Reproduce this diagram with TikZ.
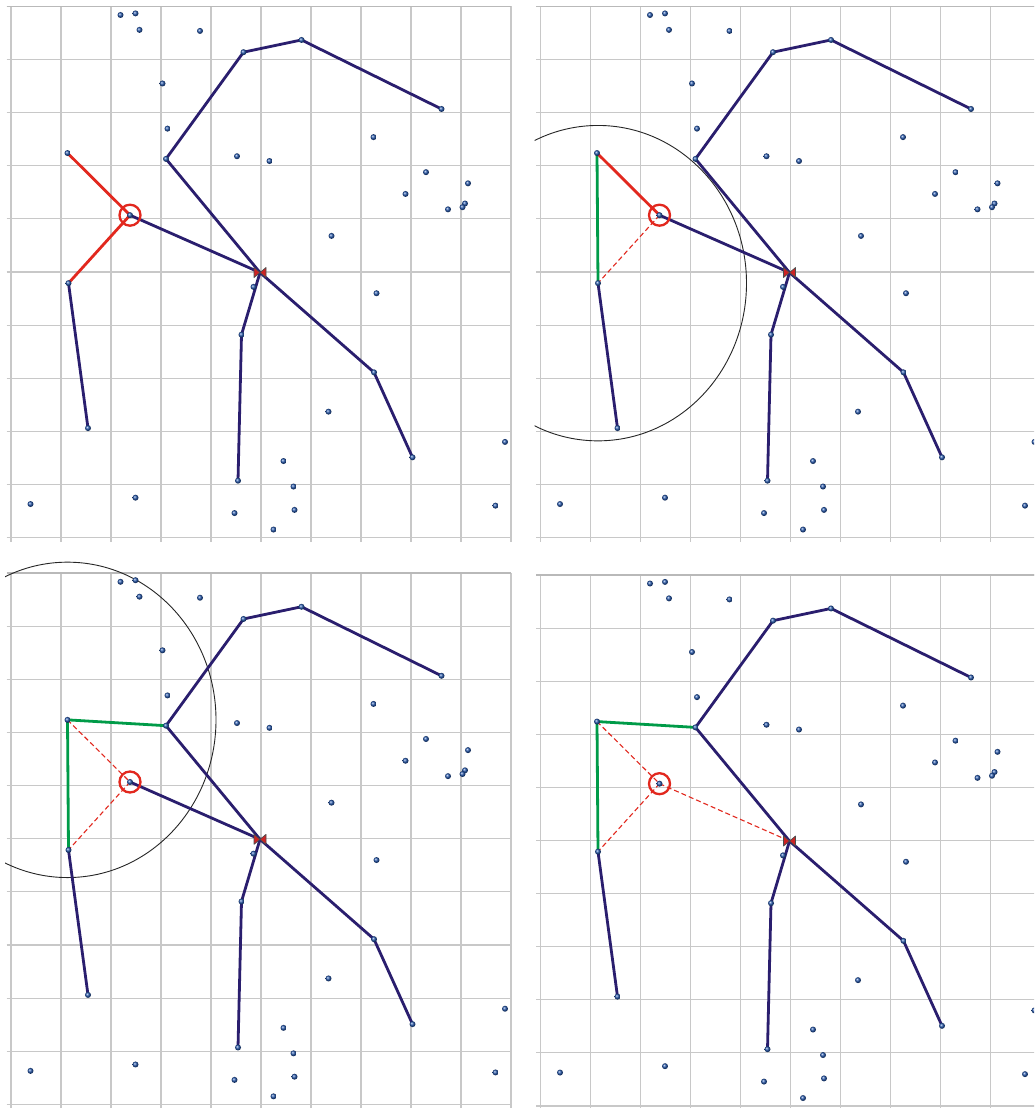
\documentclass[tikz,border=0pt]{standalone}
\usepackage{tikz}
\definecolor{navy}{RGB}{42,30,110}
\definecolor{redc}{RGB}{226,40,30}
\definecolor{greenc}{RGB}{0,155,72}
\definecolor{gridgray}{RGB}{200,200,200}
\definecolor{bordergray}{RGB}{185,185,185}
\definecolor{dotblue}{RGB}{35,85,170}
\definecolor{bowred}{RGB}{205,35,35}
\tikzset{
  navyline/.style={navy,line width=2.8pt,line cap=round,line join=round},
  redline/.style={redc,line width=2.8pt,line cap=round},
  greenline/.style={greenc,line width=2.8pt,line cap=round},
  reddash/.style={redc,line width=1.1pt,dash pattern=on 5pt off 3pt},
  gridline/.style={gridgray,line width=1.1pt},
  bigcircle/.style={black!85,line width=0.9pt}
}
\newcommand{\mypanel}[4]{%
\begin{scope}[shift={(#2,#3)},x=50pt,y=-53.1pt]
  \draw[gridline] \foreach \k in {0,...,10}{(\k,0) -- (\k,10.08) (-0.09,\k) -- (10,\k)};
  \draw[bordergray,line width=1.8pt] (-0.09,0) -- (10,0);
  \foreach \i/\a/\b in {1/2.19/0.16, 2/2.49/0.13, 3/2.57/0.44, 4/3.78/0.46,
      5/4.65/0.86, 6/5.81/0.63, 7/8.61/1.93, 8/3.03/1.45, 9/3.13/2.30,
      10/7.25/2.46, 11/1.13/2.76, 12/3.10/2.87, 13/4.52/2.82, 14/5.17/2.91,
      15/8.30/3.12, 16/9.14/3.33, 17/7.89/3.53, 18/8.74/3.82, 19/9.08/3.71,
      20/9.03/3.78, 21/2.38/3.93, 22/6.41/4.32, 23/4.98/5.01, 24/4.85/5.28,
      25/7.31/5.40, 26/1.15/5.21, 27/4.61/6.18, 28/7.26/6.89, 29/6.35/7.63,
      30/1.54/7.94, 31/8.03/8.49, 32/9.88/8.20, 33/5.45/8.56, 34/4.54/8.93,
      35/5.65/9.04, 36/0.39/9.37, 37/2.49/9.25, 38/4.47/9.54, 39/5.67/9.48,
      40/5.25/9.85, 41/9.69/9.40}{\coordinate (#1-\i) at (\a,\b);}
  % black circle
  \ifnum#4=2
    \begin{scope}\clip (-0.12,-1) rectangle (10.5,11);
      \draw[bigcircle] (#1-26) circle[x radius=148.5pt,y radius=157.7pt];
    \end{scope}
  \fi
  \ifnum#4=3
    \begin{scope}\clip (-0.12,-1) rectangle (10.5,11);
      \draw[bigcircle] (#1-11) circle[x radius=148.5pt,y radius=157.7pt];
    \end{scope}
  \fi
  % navy polylines
  \draw[navyline] (#1-23) -- (#1-12) -- (#1-5) -- (#1-6) -- (#1-7);
  \draw[navyline] (#1-23) -- (#1-27) -- (#1-34);
  \draw[navyline] (#1-23) -- (#1-28) -- (#1-31);
  \draw[navyline] (#1-26) -- (#1-30);
  \ifnum#4<4 \draw[navyline] (#1-21) -- (#1-23); \fi
  % coloured segments
  \ifnum#4=1
    \draw[redline] (#1-11) -- (#1-21) -- (#1-26);
  \fi
  \ifnum#4=2
    \draw[greenline] (#1-11) -- (#1-26);
    \draw[redline] (#1-11) -- (#1-21);
    \draw[reddash] (#1-21) -- (#1-26);
  \fi
  \ifnum#4>2
    \draw[greenline] (#1-12) -- (#1-11) -- (#1-26);
    \draw[reddash] (#1-11) -- (#1-21) -- (#1-26);
  \fi
  \ifnum#4=4
    \draw[reddash] (#1-21) -- (#1-23);
  \fi
  % dots
  \foreach \i in {1,...,22,24,25,26,27,28,29,30,31,32,33,34,35,36,37,38,39,40,41}{
    \shade[ball color=dotblue] (#1-\i) circle (3pt);}
  % red marker circle
  \draw[redc,line width=2.3pt] (#1-21) circle (10.5pt);
  % bowtie marker
  \filldraw[fill=bowred,draw=black!70,line width=0.7pt,line join=round]
    (#1-23) -- ++(-6pt,5pt) -- ++(0pt,-10pt) -- cycle;
  \filldraw[fill=bowred,draw=black!70,line width=0.7pt,line join=round]
    (#1-23) -- ++(6pt,5pt) -- ++(0pt,-10pt) -- cycle;
\end{scope}}

\begin{document}
\begin{tikzpicture}[x=1pt,y=-1pt]
  \useasboundingbox (0,0) rectangle (1034,1108);
  \fill[white] (0,0) rectangle (1034,1108);
  \clip (0,0) rectangle (1034,1108);
  \mypanel{pa}{11}{6.5}{1}
  \mypanel{pb}{540.5}{6.5}{2}
  \mypanel{pc}{11}{573.3}{3}
  \mypanel{pd}{540.5}{575}{4}
\end{tikzpicture}
\end{document}
